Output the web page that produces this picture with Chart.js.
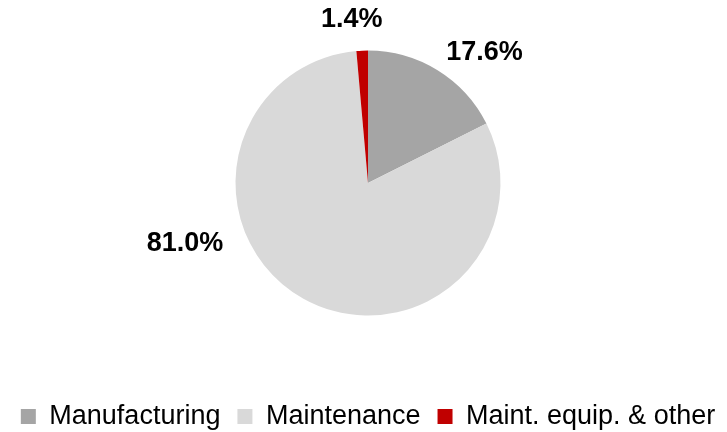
<!DOCTYPE html>
<html>
<head>
<meta charset="utf-8">
<script src="https://cdn.jsdelivr.net/npm/chart.js@4/dist/chart.umd.min.js"></script>
<style>
	html, body { margin: 0; padding: 0; background: #fff; overflow: hidden; }
	#wrap { position: relative; width: 740px; height: 440px; }
</style>
</head>
<body>
<div id="wrap"><canvas id="chart"></canvas></div>
<script>
'use strict';

// data
var categories = ['Manufacturing', 'Maintenance', 'Maint. equip. & other'];
var shares = [17.6, 81.0, 1.4];
var shareLabels = ['17.6%', '81.0%', '1.4%'];

var sliceColors = ['#A5A5A5', '#D9D9D9', '#C00000'];

// where each value label sits: angle clockwise from 12 o'clock, distance in pie radii
var labelPlacement = [
	{deg: 41.8, dist: 1.32},
	{deg: 251.6, dist: 1.456},
	{deg: -5.7, dist: 1.237}
];

var pieLabels = {
	id: 'pieLabels',
	afterDatasetsDraw: function (chart) {
		var ctx = chart.ctx;
		var meta = chart.getDatasetMeta(0);
		ctx.save();
		ctx.font = 'bold 27px "Liberation Sans", Arial, sans-serif';
		ctx.fillStyle = '#000';
		ctx.textAlign = 'center';
		ctx.textBaseline = 'middle';
		meta.data.forEach(function (arc, i) {
			var p = labelPlacement[i];
			var a = p.deg * Math.PI / 180;
			var r = arc.outerRadius * p.dist;
			ctx.fillText(shareLabels[i], arc.x + Math.sin(a) * r, arc.y - Math.cos(a) * r);
		});
		ctx.restore();
	}
};

new Chart(document.getElementById('chart'), {
	type: 'pie',
	data: {
		labels: categories,
		datasets: [{
			data: shares,
			backgroundColor: sliceColors,
			borderWidth: 0,
			radius: 132.5
		}]
	},
	options: {
		responsive: true,
		maintainAspectRatio: false,
		animation: false,
		layout: { padding: { left: 0, right: 4, top: 0, bottom: 0 } },
		plugins: {
			tooltip: { enabled: false },
			legend: {
				position: 'bottom',
				title: {
					display: true,
					text: ' ',
					color: 'rgba(0,0,0,0)',
					font: { size: 2, lineHeight: 1 },
					padding: { top: 9, bottom: 9 }
				},
				labels: {
					boxWidth: 15,
					boxHeight: 15,
					padding: 17,
					color: '#000',
					font: { family: '"Liberation Sans", Arial, sans-serif', size: 27 }
				}
			}
		}
	},
	plugins: [pieLabels]
});
</script>
</body>
</html>
